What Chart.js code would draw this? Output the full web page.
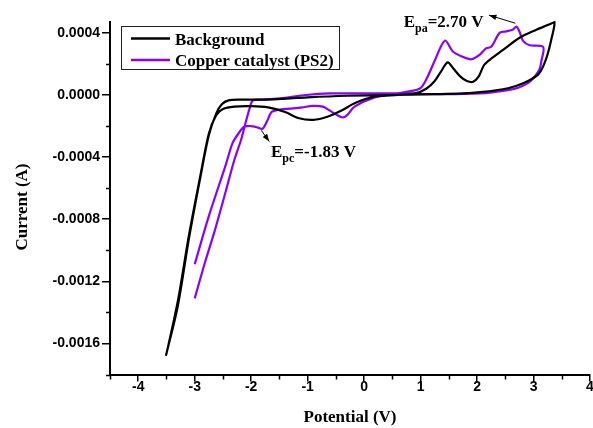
<!DOCTYPE html>
<html>
<head>
<meta charset="utf-8">
<script src="https://cdn.jsdelivr.net/npm/chart.js@4.4.1/dist/chart.umd.min.js"></script>
<style>
  html, body { margin: 0; padding: 0; background: #fff; }
  canvas { display: block; }
</style>
</head>
<body>
<canvas id="chart" width="593" height="428"></canvas>
<script>
// Background scan (black), one closed sweep
const bgX = [-3.49, -3.30, -3.10, -2.90, -2.75, -2.62, -2.50, -2.30, -2.00, -1.70, -1.40, -1.15, -0.90, -0.65, -0.40, -0.15,
  0.20, 0.60, 0.90, 1.10, 1.25, 1.36, 1.48, 1.58, 1.70, 1.82, 1.93, 2.03, 2.12, 2.22, 2.46, 2.76, 3.05, 3.25, 3.37,
  3.31, 3.22, 3.10, 2.93, 2.70, 2.46, 2.10, 1.75, 1.20, 0.50, -0.30, -1.00, -1.60, -2.20, -2.40, -2.52, -2.62, -2.75,
  -2.90, -3.10, -3.30, -3.51];
const bgY = [-0.00165, -0.00133, -0.00090, -0.00052, -0.00025, -0.00013, -0.00009, -0.000075, -0.000072, -0.00008,
  -0.00011, -0.00015, -0.00016, -0.00014, -0.00010, -0.00005, -0.00001, 0.0, 0.00001, 0.00004, 0.00009, 0.00015,
  0.00021, 0.00017, 0.00012, 0.00009, 0.000085, 0.00012, 0.00019, 0.000225, 0.00029, 0.00037, 0.00042, 0.00045,
  0.00047, 0.00035, 0.00023, 0.00014, 0.000095, 0.00006, 0.000037, 0.00002, 0.00001, 0.000005, 0.0, -0.000005,
  -0.000015, -0.000028, -0.00003, -0.000035, -0.00006, -0.00012, -0.00026, -0.00053, -0.00092, -0.00136, -0.00168];

// Copper catalyst (PS2) scan (purple)
const cuX = [-3.00, -2.75, -2.45, -2.33, -2.21, -2.13, -2.05, -1.97, -1.88, -1.80, -1.72, -1.64, -1.52, -1.32, -1.10,
  -0.91, -0.73, -0.61, -0.50, -0.38, -0.30, -0.17, 0.15, 0.57, 0.98, 1.10, 1.25, 1.43, 1.57, 1.72, 1.90, 2.05, 2.16,
  2.25, 2.40, 2.52, 2.63, 2.70, 2.76, 2.81, 2.93, 3.17, 3.14, 3.10, 2.95, 2.75, 2.52, 2.05, 1.40, 0.60, 0.00, -0.60,
  -1.03, -1.44, -1.80, -1.97, -2.03, -2.10, -2.18, -2.30, -2.45, -2.65, -2.82, -3.00];
const cuY = [-0.00109, -0.00078, -0.00045, -0.00031, -0.00024, -0.000205, -0.0002, -0.000202, -0.00021, -0.000218,
  -0.00017, -0.00011, -0.000095, -0.000088, -0.00008, -0.00007, -0.000075, -0.0001, -0.000125, -0.000145, -0.00013,
  -0.000075, -0.00002, 0.00001, 0.00004, 0.0001, 0.00022, 0.00035, 0.00028, 0.00025, 0.00023, 0.00026, 0.0003,
  0.00031, 0.0004, 0.00041, 0.00042, 0.00044, 0.0004, 0.00035, 0.00032, 0.00031, 0.00022, 0.00016, 0.00009, 0.00005,
  0.00003, 0.00001, 0.000005, 0.00001, 0.00001, 0.00001, 0.0, -0.00002, -0.00003, -0.000035, -0.00009, -0.00018,
  -0.00029, -0.00042, -0.00062, -0.00088, -0.00108, -0.00131];

const seriesLabels = ["Background", "Copper catalyst (PS2)"];
const seriesColors = ["#000000", "#8a00ff"];

const xTicks = [-4, -3, -2, -1, 0, 1, 2, 3, 4];
const yTicks = [-0.0016, -0.0012, -0.0008, -0.0004, 0, 0.0004];

// peak labels: text anchor and arrow (tail -> head), in data units
const peakNotes = [
  { main: "E", sub: "pa", rest: "=2.70 V", at: [0.70, 0.000438], from: [2.68, 0.000462], to: [2.21, 0.000514] },
  { main: "E", sub: "pc", rest: "=-1.83 V", at: [-1.65, -0.000401], from: [-1.82, -0.000228], to: [-1.68, -0.000300] },
];

const serif = "'Liberation Serif', 'Times New Roman', serif";
Chart.defaults.font.family = "'Liberation Sans', Arial, sans-serif";
Chart.defaults.color = "#000";

const toPoints = (xs, ys) => xs.map((x, i) => ({ x: x, y: ys[i] }));

const minorTicks = {
  id: "minorTicks",
  afterDraw(chart) {
    const ctx = chart.ctx;
    const xs = chart.scales.x, ys = chart.scales.y;
    ctx.save();
    ctx.strokeStyle = "#000";
    ctx.lineWidth = 1.5;
    ctx.beginPath();
    const xm = [xTicks[0] - 0.5];
    for (let i = 0; i < xTicks.length - 1; i++) xm.push((xTicks[i] + xTicks[i + 1]) / 2);
    xm.forEach(v => {
      const px = Math.round(xs.getPixelForValue(v)) + 0.5;
      ctx.moveTo(px, xs.top);
      ctx.lineTo(px, xs.top + 5);
    });
    const ym = [yTicks[0] - 0.0002];
    for (let i = 0; i < yTicks.length - 1; i++) ym.push((yTicks[i] + yTicks[i + 1]) / 2);
    ym.forEach(v => {
      const py = Math.round(ys.getPixelForValue(v)) + 0.5;
      ctx.moveTo(ys.right, py);
      ctx.lineTo(ys.right - 4, py);
    });
    ctx.stroke();
    ctx.restore();
  }
};

const legendBox = {
  id: "legendBox",
  afterDraw(chart) {
    const ctx = chart.ctx;
    ctx.save();
    ctx.strokeStyle = "#222";
    ctx.lineWidth = 1;
    ctx.strokeRect(121.5, 26.5, 218, 43);
    ctx.font = "bold 17px " + serif;
    ctx.textBaseline = "alphabetic";
    chart.data.datasets.forEach((ds, i) => {
      const y = 38.5 + i * 21.5;
      ctx.strokeStyle = ds.borderColor;
      ctx.lineWidth = 2.4;
      ctx.beginPath();
      ctx.moveTo(131, y);
      ctx.lineTo(170, y);
      ctx.stroke();
      ctx.fillStyle = "#000";
      ctx.fillText(ds.label, 175, y + 6);
    });
    ctx.restore();
  }
};

const notes = {
  id: "notes",
  afterDraw(chart) {
    const ctx = chart.ctx;
    const xs = chart.scales.x, ys = chart.scales.y;
    ctx.save();
    ctx.fillStyle = "#000";
    ctx.strokeStyle = "#000";
    peakNotes.forEach(n => {
      let x = xs.getPixelForValue(n.at[0]);
      const y = ys.getPixelForValue(n.at[1]);
      ctx.font = "bold 17px " + serif;
      ctx.fillText(n.main, x, y);
      x += ctx.measureText(n.main).width;
      ctx.font = "bold 12px " + serif;
      ctx.fillText(n.sub, x, y + 5);
      x += ctx.measureText(n.sub).width;
      ctx.font = "bold 17px " + serif;
      ctx.fillText(n.rest, x, y);

      const x0 = xs.getPixelForValue(n.from[0]), y0 = ys.getPixelForValue(n.from[1]);
      const x1 = xs.getPixelForValue(n.to[0]), y1 = ys.getPixelForValue(n.to[1]);
      const a = Math.atan2(y1 - y0, x1 - x0);
      ctx.lineWidth = 1;
      ctx.beginPath();
      ctx.moveTo(x0, y0);
      ctx.lineTo(x1, y1);
      ctx.stroke();
      ctx.beginPath();
      ctx.moveTo(x1, y1);
      ctx.lineTo(x1 - 8 * Math.cos(a - 0.35), y1 - 8 * Math.sin(a - 0.35));
      ctx.lineTo(x1 - 8 * Math.cos(a + 0.35), y1 - 8 * Math.sin(a + 0.35));
      ctx.closePath();
      ctx.fill();
    });

    // y axis title
    ctx.font = "bold 17px " + serif;
    ctx.textAlign = "center";
    ctx.textBaseline = "middle";
    ctx.translate(23, 207);
    ctx.rotate(-Math.PI / 2);
    ctx.fillText("Current (A)", 0, 0);
    ctx.restore();
  }
};

const ctx = document.getElementById("chart").getContext("2d");
new Chart(ctx, {
  type: "scatter",
  data: {
    datasets: [
      {
        label: seriesLabels[0],
        data: toPoints(bgX, bgY),
        showLine: true,
        borderColor: seriesColors[0],
        borderWidth: 2.2,
        pointRadius: 0,
        tension: 0.3,
        clip: false,
      },
      {
        label: seriesLabels[1],
        data: toPoints(cuX, cuY),
        showLine: true,
        borderColor: seriesColors[1],
        borderWidth: 2.2,
        pointRadius: 0,
        tension: 0.3,
        clip: false,
      },
    ],
  },
  options: {
    responsive: false,
    animation: false,
    devicePixelRatio: 1,
    layout: { padding: { top: 22, right: 3, left: 0, bottom: 0 } },
    plugins: {
      legend: { display: false },
      tooltip: { enabled: false },
    },
    scales: {
      x: {
        type: "linear",
        min: -4.5,
        max: 4,
        afterBuildTicks: s => { s.ticks = xTicks.map(v => ({ value: v })); },
        afterFit: s => { s.height = 53.5; },
        grid: { drawOnChartArea: false, drawTicks: true, tickLength: 7, color: "#000", lineWidth: 1.5 },
        border: { display: true, color: "#000", width: 2 },
        ticks: { font: { size: 14, weight: "bold" }, padding: -3, maxRotation: 0, callback: v => String(v) },
        title: {
          display: true,
          text: "Potential (V)",
          font: { family: serif, size: 17, weight: "bold" },
          padding: { top: 0, bottom: 0 },
        },
      },
      y: {
        type: "linear",
        min: -0.0018,
        max: 0.00047,
        afterBuildTicks: s => { s.ticks = yTicks.map(v => ({ value: v })); },
        afterFit: s => { s.width = 110; },
        grid: { drawOnChartArea: false, drawTicks: true, tickLength: 8, color: "#000", lineWidth: 1.5 },
        border: { display: true, color: "#000", width: 2 },
        ticks: { font: { size: 14, weight: "bold" }, padding: 2, callback: v => v.toFixed(4) },
      },
    },
  },
  plugins: [minorTicks, legendBox, notes],
});
</script>
</body>
</html>
